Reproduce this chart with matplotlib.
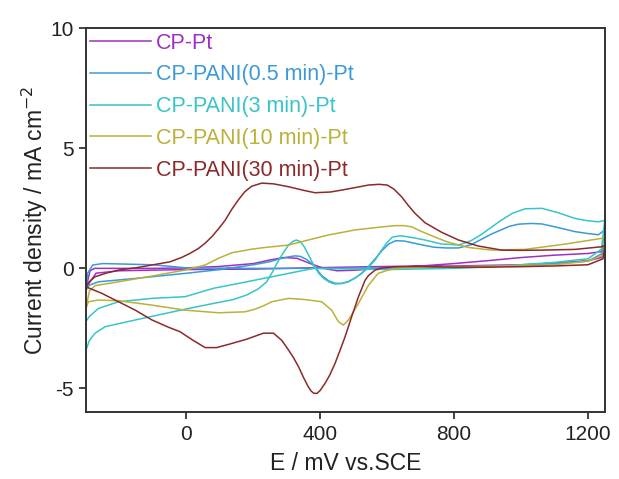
import matplotlib
matplotlib.use("Agg")
import matplotlib.pyplot as plt

plt.rcParams["font.family"] = ["Liberation Sans", "DejaVu Sans"]
plt.rcParams["axes.unicode_minus"] = False

# CP-Pt
pt_fwd_x = [-300, -288, -275, -200, -100, 0, 100, 200, 250, 290, 330, 370, 410, 450, 500, 600, 700, 800, 900, 1000, 1100, 1200, 1240, 1250]
pt_fwd_y = [-0.8, -0.1, 0.0, 0.0, 0.0, 0.02, 0.08, 0.2, 0.35, 0.45, 0.42, 0.2, 0.0, -0.1, -0.08, 0.02, 0.1, 0.2, 0.32, 0.45, 0.55, 0.62, 0.7, 0.85]
pt_rev_x = [1250, 1240, 1200, 1100, 1000, 800, 600, 400, 200, 0, -200, -270, -300]
pt_rev_y = [0.85, 0.45, 0.32, 0.22, 0.15, 0.1, 0.08, 0.03, -0.03, -0.05, -0.1, -0.2, -0.8]

# CP-PANI(0.5 min)-Pt
p05_fwd_x = [-300, -290, -263, -153, -4, 100, 200, 250, 280, 305, 325, 340, 358, 375, 390, 404, 425, 444, 464, 484, 504, 524, 544, 564, 585, 605, 625, 650, 680, 710, 740, 775, 813, 850, 880, 910, 940, 965, 992, 1030, 1062, 1110, 1161, 1200, 1231, 1250]
p05_fwd_y = [-0.9, -0.7, -0.56, -0.42, -0.21, -0.05, 0.15, 0.28, 0.4, 0.48, 0.52, 0.5, 0.38, 0.2, -0.05, -0.3, -0.52, -0.62, -0.63, -0.55, -0.4, -0.2, 0.08, 0.4, 0.75, 1.02, 1.15, 1.14, 1.05, 0.96, 0.88, 0.85, 0.85, 0.98, 1.2, 1.42, 1.6, 1.75, 1.84, 1.87, 1.85, 1.7, 1.53, 1.45, 1.4, 1.6]
p05_rev_x = [1250, 1240, 1200, 1100, 1000, 800, 600, 400, 200, 0, -100, -250, -280, -295, -300]
p05_rev_y = [1.6, 0.6, 0.3, 0.2, 0.12, 0.05, 0.02, 0.0, 0.0, 0.02, 0.15, 0.2, 0.14, -0.2, -0.9]

# CP-PANI(3 min)-Pt
p3_fwd_x = [-300, -290, -273, -243, -153, -4, 81, 140, 180, 215, 240, 255, 270, 288, 305, 318, 328, 340, 352, 365, 380, 395, 410, 428, 444, 464, 484, 504, 524, 544, 564, 580, 598, 615, 640, 680, 713, 760, 813, 850, 880, 910, 940, 975, 1012, 1062, 1110, 1161, 1200, 1231, 1250]
p3_fwd_y = [-3.4, -3.0, -2.7, -2.43, -2.15, -1.7, -1.46, -1.3, -1.11, -0.85, -0.56, -0.2, 0.2, 0.62, 0.97, 1.12, 1.18, 1.12, 0.9, 0.55, 0.15, -0.2, -0.42, -0.58, -0.65, -0.63, -0.56, -0.4, -0.21, 0.05, 0.35, 0.7, 1.05, 1.3, 1.36, 1.27, 1.18, 1.02, 0.97, 1.15, 1.4, 1.7, 2.0, 2.3, 2.48, 2.5, 2.32, 2.08, 1.98, 1.94, 2.0]
p3_rev_x = [1250, 1240, 1200, 1100, 1000, 900, 800, 600, 380, 280, 180, 81, -4, -103, -203, -263, -290, -300]
p3_rev_y = [2.0, 0.8, 0.4, 0.25, 0.15, 0.05, 0.0, -0.05, 0.0, -0.28, -0.56, -0.83, -1.18, -1.25, -1.39, -1.67, -2.0, -2.2]

# CP-PANI(10 min)-Pt
p10_fwd_x = [-300, -290, -273, -203, -103, -4, 56, 96, 136, 195, 235, 305, 364, 424, 504, 580, 623, 650, 673, 700, 743, 780, 842, 912, 1012, 1131, 1241, 1250]
p10_fwd_y = [-1.65, -0.95, -0.72, -0.56, -0.32, -0.07, 0.14, 0.42, 0.65, 0.8, 0.87, 0.97, 1.18, 1.39, 1.6, 1.72, 1.78, 1.78, 1.73, 1.55, 1.3, 1.1, 0.87, 0.76, 0.79, 1.01, 1.25, 1.3]
p10_rev_x = [1250, 1245, 1200, 1100, 950, 800, 700, 640, 603, 573, 544, 514, 484, 469, 454, 434, 404, 355, 305, 255, 235, 205, 175, 96, -4, -103, -203, -263, -293, -300]
p10_rev_y = [1.3, 0.55, 0.3, 0.15, 0.1, 0.07, 0.05, 0.02, -0.07, -0.21, -0.7, -1.46, -2.15, -2.36, -2.22, -1.74, -1.39, -1.3, -1.25, -1.39, -1.53, -1.7, -1.81, -1.85, -1.74, -1.53, -1.35, -1.32, -1.39, -1.65]

# CP-PANI(30 min)-Pt
p30_fwd_x = [-300, -290, -273, -240, -203, -153, -103, -50, -15, 10, 36, 56, 76, 96, 116, 135, 155, 175, 195, 225, 260, 305, 350, 384, 430, 464, 510, 544, 575, 600, 620, 643, 663, 683, 713, 763, 813, 872, 942, 1000, 1062, 1161, 1241, 1250]
p30_fwd_y = [-0.77, -0.55, -0.35, -0.2, -0.07, 0.02, 0.14, 0.27, 0.45, 0.62, 0.83, 1.05, 1.32, 1.65, 2.01, 2.45, 2.85, 3.2, 3.42, 3.55, 3.52, 3.4, 3.25, 3.15, 3.18, 3.26, 3.38, 3.47, 3.5, 3.47, 3.3, 2.98, 2.62, 2.29, 1.9, 1.5, 1.18, 0.93, 0.76, 0.75, 0.76, 0.79, 0.9, 0.95]
p30_rev_x = [1250, 1245, 1200, 1100, 1000, 900, 800, 700, 623, 580, 564, 544, 534, 514, 494, 474, 458, 444, 428, 414, 400, 390, 380, 372, 364, 350, 335, 320, 305, 285, 260, 230, 180, 130, 90, 56, 20, -19, -54, -103, -153, -203, -253, -300]
p30_rev_y = [0.95, 0.4, 0.15, 0.1, 0.07, 0.05, 0.05, 0.08, 0.07, 0.0, -0.07, -0.3, -0.49, -1.18, -2.0, -2.85, -3.45, -3.96, -4.45, -4.79, -5.08, -5.21, -5.2, -5.1, -4.93, -4.55, -4.1, -3.72, -3.4, -3.0, -2.7, -2.7, -2.95, -3.15, -3.3, -3.3, -3.0, -2.64, -2.45, -2.15, -1.74, -1.39, -1.04, -0.77]

labels = ["CP-Pt", "CP-PANI(0.5 min)-Pt", "CP-PANI(3 min)-Pt", "CP-PANI(10 min)-Pt", "CP-PANI(30 min)-Pt"]
colors = ["#a030c0", "#3a9ad8", "#38c4c8", "#bcb038", "#8c2a2a"]
curves = [
    (pt_fwd_x + pt_rev_x, pt_fwd_y + pt_rev_y),
    (p05_fwd_x + p05_rev_x, p05_fwd_y + p05_rev_y),
    (p3_fwd_x + p3_rev_x, p3_fwd_y + p3_rev_y),
    (p10_fwd_x + p10_rev_x, p10_fwd_y + p10_rev_y),
    (p30_fwd_x + p30_rev_x, p30_fwd_y + p30_rev_y),
]

fig = plt.figure(figsize=(6.19, 4.79), dpi=100)
ax = fig.add_axes([0.139, 0.139, 0.838, 0.802])

for (xs, ys), lab, col in zip(curves, labels, colors):
    ax.plot(xs, ys, color=col, linewidth=1.1, label=lab)

ax.set_xlim(-300, 1250)
ax.set_ylim(-6, 10)
ax.set_xticks([0, 400, 800, 1200])
ax.set_yticks([-5, 0, 5, 10])
ax.tick_params(direction="out", length=5, width=1.2, labelsize=15, pad=4, colors="#222222")
for sp in ax.spines.values():
    sp.set_linewidth(1.4)
    sp.set_color("#333333")

ax.set_xlabel("E / mV vs.SCE", fontsize=16.5, labelpad=6, color="#222222")
ax.set_ylabel("Current density / mA cm$^{-2}$", fontsize=16.5, labelpad=0, color="#222222")

ax.legend(loc="upper left", bbox_to_anchor=(0, 1), frameon=False, fontsize=15.5,
          handlelength=2.8, handletextpad=0.25, labelspacing=0.5, borderaxespad=0,
          borderpad=0.2, labelcolor="linecolor")

fig.savefig("out.png", dpi=100)
